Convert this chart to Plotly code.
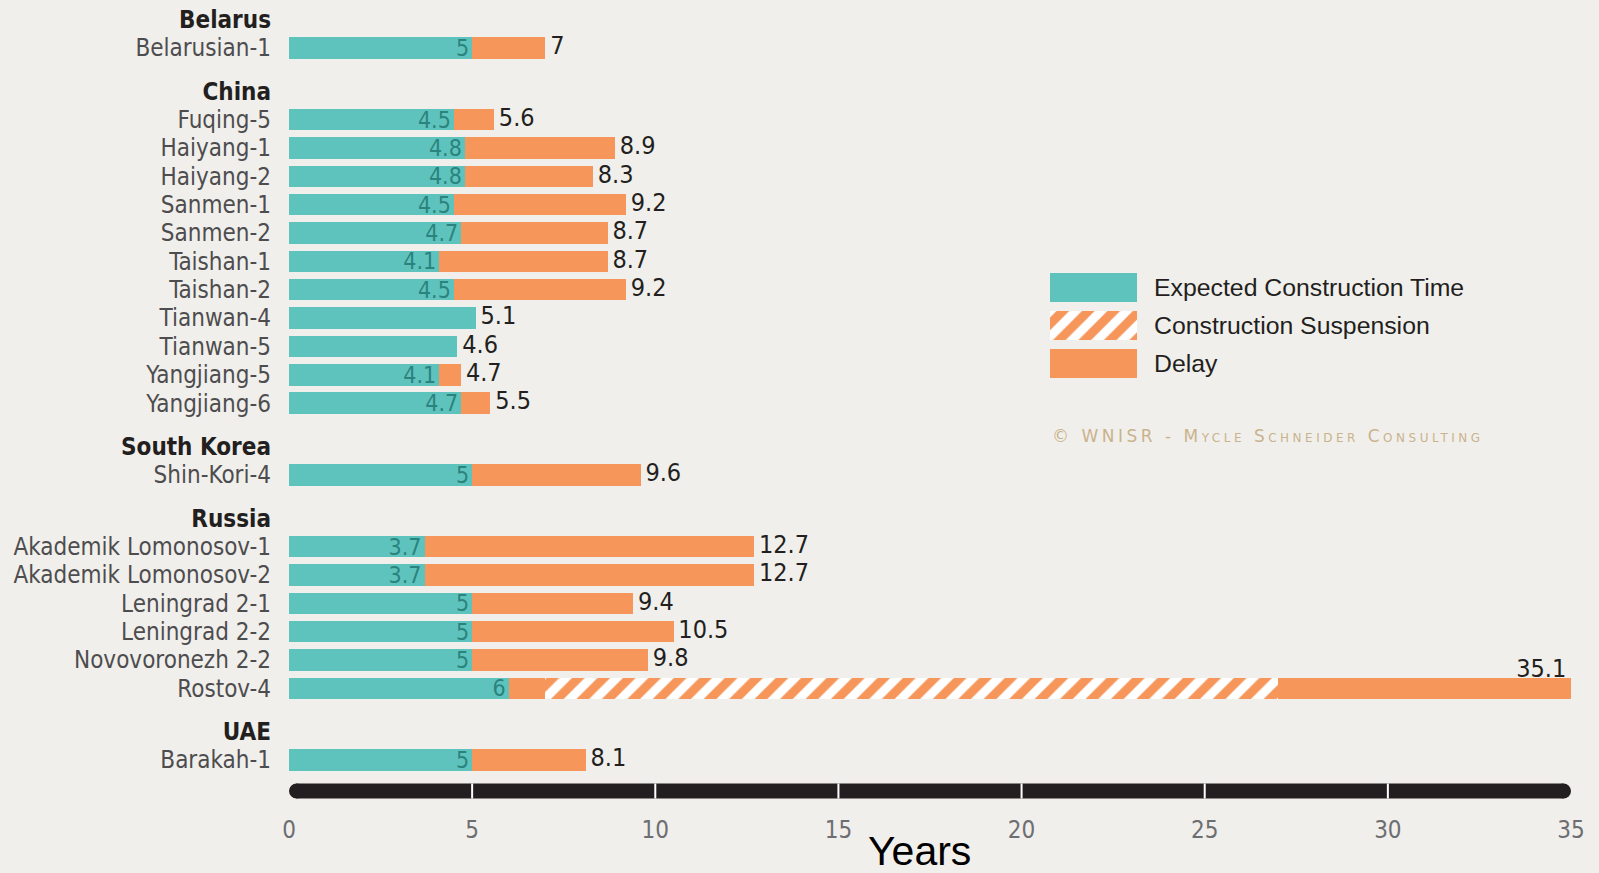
import plotly.graph_objects as go

# ---------------- data ----------------
reactors = ["Belarusian-1",
            "Fuqing-5", "Haiyang-1", "Haiyang-2", "Sanmen-1", "Sanmen-2", "Taishan-1",
            "Taishan-2", "Tianwan-4", "Tianwan-5", "Yangjiang-5", "Yangjiang-6",
            "Shin-Kori-4",
            "Akademik Lomonosov-1", "Akademik Lomonosov-2", "Leningrad 2-1", "Leningrad 2-2",
            "Novovoronezh 2-2", "Rostov-4",
            "Barakah-1"]
country = ["Belarus",
           "China", "China", "China", "China", "China", "China",
           "China", "China", "China", "China", "China",
           "South Korea",
           "Russia", "Russia", "Russia", "Russia", "Russia", "Russia",
           "UAE"]
expected = [5, 4.5, 4.8, 4.8, 4.5, 4.7, 4.1, 4.5, 5.1, 4.6, 4.1, 4.7,
            5, 3.7, 3.7, 5, 5, 5, 6, 5]
total = [7, 5.6, 8.9, 8.3, 9.2, 8.7, 8.7, 9.2, 5.1, 4.6, 4.7, 5.5,
         9.6, 12.7, 12.7, 9.4, 10.5, 9.8, 35.1, 8.1]
susp_start = [None] * 18 + [7, None]
susp_end = [None] * 18 + [27, None]

x_ticks = [0, 5, 10, 15, 20, 25, 30, 35]
legend_labels = ["Expected Construction Time", "Construction Suspension", "Delay"]
credit = "© WNISR - Mycle Schneider Consulting"

# ---------------- styles ----------------
BG = "#f1efeb"
TEAL = "#5fc3bd"
ORANGE = "#f6965a"
DARK = "#231f20"
LABEL = "#4d4d4f"
NARROW = "DejaVu Sans Condensed, Liberation Sans Narrow, Arial Narrow, sans-serif"
X_MAX = 35
GROUP_GAP = 0.53

# ---------------- row layout ----------------
rows_y = []
header_y = {}
pos = -1.0
prev = None
for r, c in zip(reactors, country):
    if c != prev:
        pos += (1 + GROUP_GAP) if prev is not None else 1
        header_y[c] = pos
        prev = c
    pos += 1
    rows_y.append(pos)

seg_delay1 = [(s if s is not None else t) - e for e, t, s in zip(expected, total, susp_start)]
seg_susp = [(b - a) if a is not None else 0 for a, b in zip(susp_start, susp_end)]
seg_delay2 = [(t - b) if b is not None else 0 for t, b in zip(total, susp_end)]
inside_txt = [f"{e:g}" if t > e else "" for e, t in zip(expected, total)]
total_txt = [f"{t:g}" for t in total]
total_x = [min(t, X_MAX) for t in total]
total_pos = ["top left" if t > X_MAX * 0.9 else "middle right" for t in total]

BAR_W = 0.76
HATCH = dict(shape="/", size=18, solidity=0.5, fgcolor=ORANGE, fgopacity=1,
             bgcolor="#ffffff", fillmode="replace")

fig = go.Figure()
fig.add_trace(go.Bar(
    y=rows_y, x=expected, orientation="h", width=BAR_W,
    marker=dict(color=TEAL, line=dict(width=0)),
    text=inside_txt, textposition="inside", insidetextanchor="end",
    constraintext="none", textangle=0,
    insidetextfont=dict(family=NARROW, size=23, color="#2b837e"),
    hoverinfo="skip"))
fig.add_trace(go.Bar(
    y=rows_y, x=seg_delay1, orientation="h", width=BAR_W,
    marker=dict(color=ORANGE, line=dict(width=0)), hoverinfo="skip"))
fig.add_trace(go.Bar(
    y=rows_y, x=seg_susp, orientation="h", width=BAR_W,
    marker=dict(color=ORANGE, line=dict(width=0), pattern=HATCH),
    hoverinfo="skip"))
fig.add_trace(go.Bar(
    y=rows_y, x=seg_delay2, orientation="h", width=BAR_W,
    marker=dict(color=ORANGE, line=dict(width=0)), hoverinfo="skip"))
fig.add_trace(go.Scatter(
    y=rows_y, x=total_x, mode="markers+text", text=total_txt, textposition=total_pos,
    marker=dict(size=6, color="rgba(0,0,0,0)"),
    textfont=dict(family=NARROW, size=25, color=DARK), cliponaxis=False,
    hoverinfo="skip"))

# legend as an inset subplot: one swatch per style
leg_rows = list(range(len(legend_labels)))
leg_styles = [dict(color=TEAL), dict(color=ORANGE, pattern=HATCH), dict(color=ORANGE)]
for yy, st in zip(leg_rows, leg_styles):
    fig.add_trace(go.Bar(
        y=[yy], x=[1], orientation="h", width=0.753,
        xaxis="x2", yaxis="y2",
        marker=dict(line=dict(width=0), **st),
        hoverinfo="skip"))

tickvals = rows_y + list(header_y.values())
ticktext = reactors + [f'<span style="color:{DARK}"><b>{c}</b></span>' for c in header_y]

shapes = []
px_half = 7.5
shapes.append(dict(type="rect", xref="x", yref="paper", x0=0.2, x1=X_MAX - 0.2,
                   ysizemode="pixel", yanchor=0, y0=-px_half, y1=px_half,
                   fillcolor=DARK, line=dict(width=0), layer="above"))
shapes.append(dict(type="circle", xref="x", yref="paper", xsizemode="pixel", xanchor=0,
                   x0=0, x1=2 * px_half, ysizemode="pixel", yanchor=0, y0=-px_half, y1=px_half,
                   fillcolor=DARK, line=dict(width=0), layer="above"))
shapes.append(dict(type="circle", xref="x", yref="paper", xsizemode="pixel", xanchor=X_MAX,
                   x0=-2 * px_half, x1=0, ysizemode="pixel", yanchor=0, y0=-px_half, y1=px_half,
                   fillcolor=DARK, line=dict(width=0), layer="above"))
for v in x_ticks[1:-1]:
    shapes.append(dict(type="line", xref="x", yref="paper", x0=v, x1=v,
                       ysizemode="pixel", yanchor=0, y0=-px_half, y1=px_half,
                       line=dict(color="#ffffff", width=2), layer="above"))

fig.update_layout(
    width=1599, height=873,
    margin=dict(l=289, r=28, t=0, b=82, autoexpand=False),
    paper_bgcolor=BG, plot_bgcolor=BG,
    barmode="stack", showlegend=False,
    xaxis=dict(range=[0, X_MAX], tickvals=x_ticks, ticktext=[str(v) for v in x_ticks],
               showgrid=False, zeroline=False, showline=False, ticks="",
               ticklabelstandoff=22, automargin=False,
               tickfont=dict(family=NARROW, size=24, color="#6d6e71")),
    yaxis=dict(range=[27.21, -0.688], tickvals=tickvals, ticktext=ticktext,
               showgrid=False, zeroline=False, showline=False, ticks="",
               ticklabelstandoff=17, automargin=False,
               tickfont=dict(family=NARROW, size=24, color=LABEL)),
    xaxis2=dict(domain=[0.5936, 0.6615], range=[0, 1], visible=False, anchor="y2"),
    yaxis2=dict(domain=[0.5221, 0.6549], range=[2.377, -0.377], anchor="x2", side="right",
                tickvals=leg_rows, ticktext=legend_labels, showgrid=False, zeroline=False,
                showline=False, ticks="", ticklabelstandoff=16, automargin=False,
                tickfont=dict(family="Liberation Sans, Arial, sans-serif", size=24.8, color=DARK)),
    shapes=shapes,
    annotations=[
        dict(text="Years", xref="paper", yref="paper", x=0.492, y=0, xanchor="center",
             yanchor="middle", yshift=-60, showarrow=False,
             font=dict(family="Liberation Sans, Arial, sans-serif", size=41, color="#000000")),
        dict(text=f'<span style="letter-spacing:3.5px">{credit}</span>', xref="paper", yref="paper",
             x=0.5936, y=0.4488, xanchor="left", yanchor="middle", showarrow=False,
             font=dict(family="DejaVu Sans, sans-serif", size=17, color="#c9b38d",
                       variant="small-caps")),
    ],
)

fig.write_html("out.html")
